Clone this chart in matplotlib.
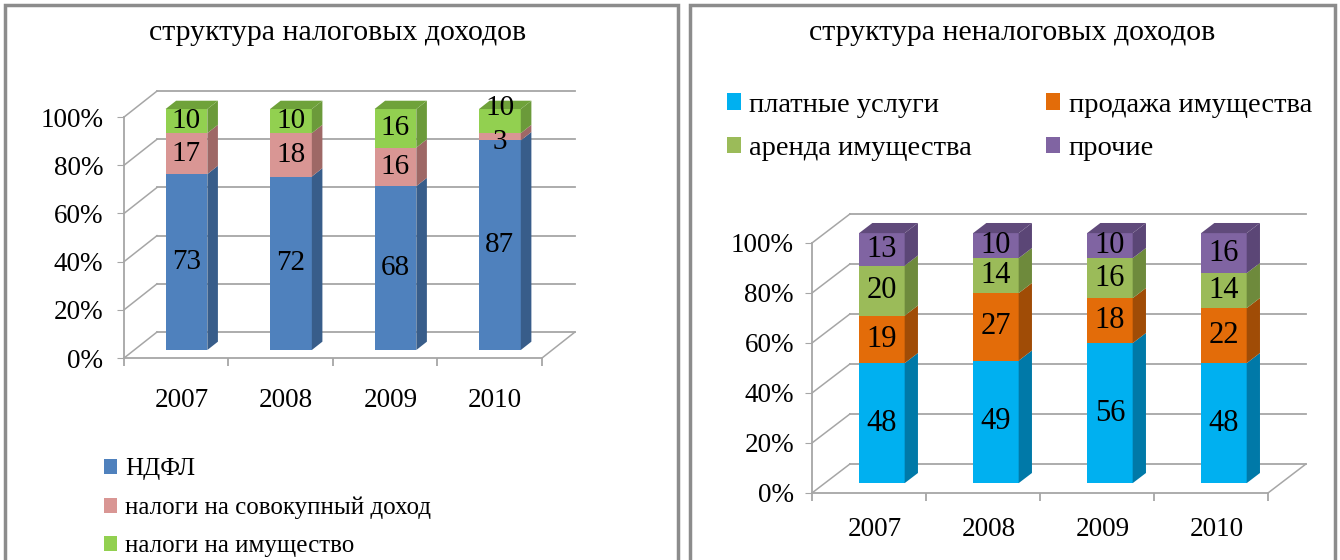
import matplotlib.pyplot as plt
from matplotlib.patches import Polygon, Rectangle, Patch

plt.rcParams['font.family'] = ['Liberation Serif', 'DejaVu Serif']

# данные
years = ['2007', '2008', '2009', '2010']

tax_labels = ['НДФЛ', 'налоги на совокупный доход', 'налоги на имущество']
ndfl = [73, 72, 68, 87]
sovokup = [17, 18, 16, 3]
imush = [10, 10, 16, 10]

nontax_labels = ['платные услуги', 'продажа имущества', 'аренда имущества', 'прочие']
platnye = [48, 49, 56, 48]
prodazha = [19, 27, 18, 22]
arenda = [20, 14, 16, 14]
prochie = [13, 10, 10, 16]

tax_front = ['#4F81BD', '#D99694', '#92D050']
tax_side = ['#385D8A', '#9E6866', '#6B9A3A']
tax_top = '#6FA23A'

nontax_front = ['#00B0F0', '#E36C09', '#9BBB59', '#8064A2']
nontax_side = ['#0079A8', '#A04C06', '#6E8A3C', '#5B4676']
nontax_top = '#604A7B'

GRID = '#a6a6a6'


def draw_walls(ax, n, DX, DY):
    # задняя стенка, левая стенка и пол псевдо-3D
    for v in range(0, 101, 20):
        ax.plot([DX, n + DX], [v + DY, v + DY], color=GRID, lw=1.3, zorder=0)
        ax.plot([0, DX], [v, v + DY], color=GRID, lw=1.1, zorder=0)
    ax.plot([n, n + DX], [0, DY], color=GRID, lw=1.1, zorder=0)


def draw_bars(ax, series, front, side, top, DX, DY, w=0.4, d0=0.32, d1=0.66, fs=21):
    n = len(series[0])
    sx = (d1 - d0) * DX
    sy = (d1 - d0) * DY
    for i in range(n):
        c = i + 0.5
        xl = c - w / 2 + d0 * DX
        xr = c + w / 2 + d0 * DX
        base = 0
        prev = None
        for k, vals in enumerate(series):
            v = vals[i]
            y0 = base + d0 * DY
            ax.add_patch(Rectangle((xl, y0), xr - xl, v, facecolor=front[k],
                                   edgecolor='none', zorder=2))
            ax.add_patch(Polygon([(xr, y0), (xr + sx, y0 + sy), (xr + sx, y0 + v + sy),
                                  (xr, y0 + v)], facecolor=side[k], edgecolor='none',
                                 zorder=2))
            # раздвигаем подписи у очень узких сегментов, как это делает Excel
            ty = y0 + v / 2
            if v < 5:
                ty -= 2.2
            if prev is not None and prev < 5:
                ty += 5.4
            ax.text((xl + xr) / 2, ty, str(v), ha='center', va='center',
                    fontsize=fs, zorder=3)
            base += v
            prev = v
        yt = base + d0 * DY
        ax.add_patch(Polygon([(xl, yt), (xr, yt), (xr + sx, yt + sy), (xl + sx, yt + sy)],
                             facecolor=top, edgecolor='none', zorder=2))


def setup_axis(ax, n, xlim, ylim, label_y, tick_fs=19.5, ypad=10):
    ax.set_xlim(*xlim)
    ax.set_ylim(*ylim)
    ax.patch.set_alpha(0)
    for s in ['top', 'right']:
        ax.spines[s].set_visible(False)
    ax.spines['left'].set_position(('data', 0))
    ax.spines['left'].set_bounds(0, 100)
    ax.spines['bottom'].set_position(('data', 0))
    ax.spines['bottom'].set_bounds(0, n)
    for s in ['left', 'bottom']:
        ax.spines[s].set_color(GRID)
        ax.spines[s].set_linewidth(1.3)
    ax.set_yticks(range(0, 101, 20))
    ax.set_yticklabels([f'{v}%' for v in range(0, 101, 20)], fontsize=tick_fs)
    ax.tick_params(axis='y', length=5, color=GRID, pad=ypad)
    ax.set_xticks(range(n + 1))
    ax.set_xticklabels([])
    ax.tick_params(axis='x', length=6, color=GRID, width=1.3)
    for i, y in enumerate(years):
        ax.text(i + 0.55, label_y, y, ha='center', va='center', fontsize=tick_fs)


fig = plt.figure(figsize=(13.4, 5.6), dpi=100)
W, H = 1340, 560

# рамки панелей
fig.patches.append(Rectangle((5 / W, -0.1), 673 / W, 1.1 - 5 / H, transform=fig.transFigure,
                             facecolor='none', edgecolor='#8c8c8c', lw=2.5))
fig.patches.append(Rectangle((690 / W, -0.1), 645 / W, 1.1 - 5 / H, transform=fig.transFigure,
                             facecolor='none', edgecolor='#8c8c8c', lw=2.5))

# левая панель
ax1 = fig.add_axes([20 / W, (H - 440) / H, 640 / W, 380 / H])
DX1, DY1 = 0.316, 10.8
setup_axis(ax1, 4, (-0.995, 5.13), (-34.0, 123.7), -17.5)
draw_walls(ax1, 4, DX1, DY1)
draw_bars(ax1, [ndfl, sovokup, imush], tax_front, tax_side, tax_top, DX1, DY1,
          d0=0.31, d1=0.63)
fig.text(338 / W, 1 - 33 / H, 'структура налоговых доходов', ha='center', va='center',
         fontsize=21.5)
h1 = [Patch(facecolor=c) for c in tax_front]
fig.legend(h1, tax_labels, loc='upper left', bbox_to_anchor=(81 / W, 1 - 436 / H),
           frameon=False, fontsize=18, handlelength=0.55, handleheight=0.55,
           handletextpad=0.3, labelspacing=0.64)

# правая панель
ax2 = fig.add_axes([700 / W, (H - 550) / H, 630 / W, 360 / H])
DX2, DY2 = 0.333, 11.6
setup_axis(ax2, 4, (-0.982, 4.544), (-22.8, 121.2), -14.8, ypad=8)
draw_walls(ax2, 4, DX2, DY2)
draw_bars(ax2, [platnye, prodazha, arenda, prochie], nontax_front, nontax_side, nontax_top,
          DX2, DY2, d0=0.34, d1=0.69, fs=22)
fig.text(1012 / W, 1 - 33 / H, 'структура неналоговых доходов', ha='center', va='center',
         fontsize=21.5)
h2 = [Patch(facecolor=c) for c in nontax_front]
order = [0, 2, 1, 3]
fig.legend([h2[i] for i in order], [nontax_labels[i] for i in order], ncol=2,
           loc='upper left', bbox_to_anchor=(701 / W, 1 - 67 / H), frameon=False,
           fontsize=20.5, handlelength=0.5, handleheight=0.5, handletextpad=0.3,
           labelspacing=0.66, columnspacing=2.6)

fig.savefig('out.png', dpi=100)
